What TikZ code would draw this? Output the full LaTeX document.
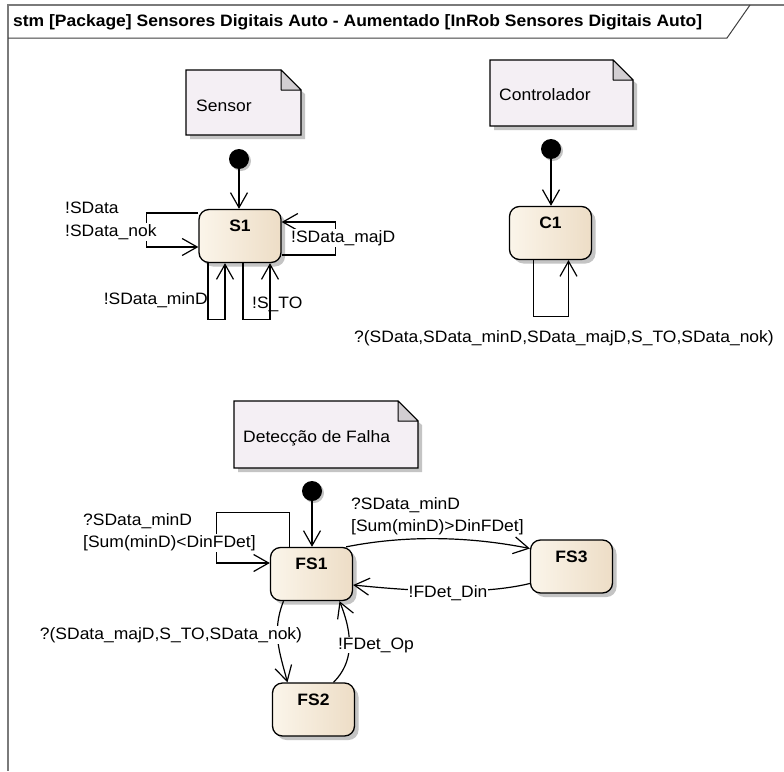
\documentclass[tikz,border=0pt]{standalone}
\usepackage{fontspec}
\setmainfont[FakeStretch=1.06]{Liberation Sans}
\usetikzlibrary{arrows.meta,calc,shadows}

\definecolor{stateL}{HTML}{FBF5EA}
\definecolor{stateR}{HTML}{EDDDC6}
\definecolor{notefill}{HTML}{F4EFF4}
\definecolor{foldfill}{HTML}{D2CED2}
\definecolor{shadowgray}{HTML}{C4C4C4}
\definecolor{framegray}{HTML}{7A7A7A}

% UML note with a folded top-right corner and a soft shadow
\newcommand{\umlnote}[4]{%
  \fill[shadowgray] ($(#1,#2)+(4,4)$) -- ($(#3,#2)+(-20,4)$) -- ($(#3,#2)+(4,24)$) -- ($(#3,#4)+(4,4)$) -- ($(#1,#4)+(4,4)$) -- cycle;
  \draw[line width=1.2pt, fill=notefill] (#1,#2) -- ($(#3,#2)+(-20,0)$) -- ($(#3,#2)+(0,20)$) -- (#3,#4) -- (#1,#4) -- cycle;
  \draw[line width=1pt, fill=foldfill, line join=round] ($(#3,#2)+(-20,0)$) -- ($(#3,#2)+(-20,20)$) -- ($(#3,#2)+(0,20)$) -- cycle;
}

\begin{document}
\begin{tikzpicture}[x=1pt,y=-1pt,
  font=\fontsize{16.5}{19}\selectfont,
  every node/.style={inner sep=1pt},
  state/.style={draw=black, line width=1.3pt, rounded corners=10pt,
    left color=stateL, right color=stateR,
    minimum width=82pt, inner xsep=0pt, inner ysep=6pt,
    text height=16pt, text depth=25pt,
    font=\fontsize{16.5}{19}\selectfont\bfseries,
    drop shadow={shadow xshift=4pt, shadow yshift=-4pt, fill=shadowgray, opacity=1}},
  initdot/.style={circle, fill=black, minimum size=20pt, inner sep=0pt,
    drop shadow={shadow xshift=2pt, shadow yshift=-2pt, fill=shadowgray, opacity=1}},
  arr/.style={draw=black, line width=1.2pt, -{Straight Barb[length=15pt, width=17pt]}},
  lbl/.style={inner sep=1pt},
  lblw/.style={fill=white, inner sep=1pt},
  notetext/.style={anchor=west, inner sep=0pt}
]
\useasboundingbox (0,0) rectangle (784,771);
\fill[white] (0,0) rectangle (784,771);

% diagram frame and heading tab
\draw[framegray, line width=2pt] (784,5) -- (8,5) -- (8,771);
\draw[line width=1pt, black!75] (8,38) -- (727,38) -- (750,5);
\node[anchor=west, inner sep=0pt, font=\fontsize{16.5}{19}\selectfont\bfseries] (title) at (13,22)
  {stm [Package] Sensores Digitais Auto - Aumentado [InRob Sensores Digitais Auto]};

% notes
\umlnote{186}{70}{301}{135}
\node[notetext] (nSensor) at (196,106) {Sensor};
\umlnote{490}{60}{633}{126}
\node[notetext] (nCtrl) at (499,95) {Controlador};
\umlnote{234}{401}{418}{468}
\node[notetext] (nFalha) at (243,438) {Detecção de Falha};

% states
\node[state] (S1) at (240,236) {S1};
\node[state] (C1) at (550.5,233) {C1};
\node[state] (FS1) at (311.5,574) {FS1};
\node[state] (FS3) at (571.5,566.5) {FS3};
\node[state] (FS2) at (313.5,709.5) {FS2};

% initial pseudostates
\node[initdot] (i1) at (239,159) {};
\node[initdot] (i2) at (551,149) {};
\node[initdot] (i3) at (312,491) {};
\draw[arr] (i1) -- (i1 |- S1.north);
\draw[arr] (i2) -- (i2 |- C1.north);
\draw[arr] (i3) -- (i3 |- FS1.north);

% Sensor self transitions
\draw[arr] ($(S1.west)+(0,-23)$) -- ++(-52,0) |- ($(S1.west)+(0,11)$);
\draw[arr] ($(S1.east)+(0,19)$) -- ++(54,0) |- ($(S1.east)+(0,-14)$);
\draw[arr] ($(S1.south)+(-32,0)$) -- ++(0,56) -| ($(S1.south)+(-15,0)$);
\draw[arr] ($(S1.south)+(3,0)$) -- ++(0,56) -| ($(S1.south)+(30,0)$);
\node[lbl, anchor=west] (lSData) at (64,208) {!SData};
\node[lblw, anchor=west] (lSDataNok) at (64,232) {!SData\_nok};
\node[lblw, anchor=west] (lSDataMajD) at (290,238) {!SData\_majD};
\node[lbl, anchor=east] (lSDataMinD) at (209,300) {!SData\_minD};
\node[lbl, anchor=west] (lSTO) at (251,304) {!S\_TO};

% Controlador self transition
\draw[arr] ($(C1.south)+(-17,0)$) -- ++(0,56) -| ($(C1.south)+(18,0)$);
\node[lbl] (lCtrl) at (564,338) {?(SData,SData\_minD,SData\_majD,S\_TO,SData\_nok)};

% fault detection machine
\draw[arr] ($(FS1.north)+(-22,0)$) -- ++(0,-34) -- ++(-73,0) |- ($(FS1.west)+(0,-11)$);
\node[lbl, anchor=west] (lFS1a) at (82,521) {?SData\_minD};
\node[lblw, anchor=west] (lFS1b) at (82,543) {[Sum(minD)<DinFDet]};

\draw[arr] ($(FS1.north east)+(-7,0)$) .. controls +(60,-12) and +(-60,-12) .. ($(FS3.west)+(0,-18)$);
\node[lbl, anchor=west] (lFS3a) at (350,505) {?SData\_minD};
\node[lbl, anchor=west] (lFS3b) at (350,527) {[Sum(minD)>DinFDet]};

\draw[arr] ($(FS3.west)+(0,17)$) .. controls +(-50,12) and +(60,6) .. ($(FS1.east)+(0,11)$);
\node[lblw] (lDin) at (448,593) {!FDet\_Din};

\draw[arr] ($(FS1.south)+(-28,0)$) .. controls +(-12,30) and +(-8,-30) .. ($(FS2.north)+(-26,0)$);
\node[lblw] (lFS2) at (171,635) {?(SData\_majD,S\_TO,SData\_nok)};

\draw[arr] ($(FS2.north)+(20,0)$) .. controls +(20,-20) and +(14,35) .. ($(FS1.south)+(28,0)$);
\node[lblw] (lOp) at (376,645) {!FDet\_Op};
\end{tikzpicture}
\end{document}
